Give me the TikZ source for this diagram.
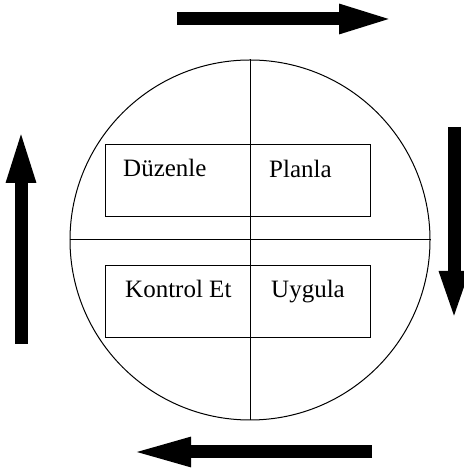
\documentclass[tikz,border=0pt]{standalone}
\usepackage{fontspec}
\setmainfont{Liberation Serif}
\usetikzlibrary{arrows.meta}
\tikzset{
  thin line/.style={line width=1pt},
  box/.style={draw, thin line, minimum width=265pt, minimum height=72pt, inner sep=0pt},
  word/.style={anchor=base west, inner sep=0pt, font=\fontsize{25}{29}\selectfont},
  bigarrow/.style={line width=13pt, -{Triangle[length=#1,width=26pt]}}
}
\begin{document}
\begin{tikzpicture}[x=1pt,y=1pt]
        \useasboundingbox (0,0) rectangle (463,468);
        % the wheel and its two diameters
        \node[circle, draw, thin line, minimum size=360pt, inner sep=0pt] (wheel) at (250,228) {};
        \draw[thin line] (wheel.north) -- (wheel.south);
        \draw[thin line] (wheel.west) -- (wheel.east);
        % the two boxes
        \node[box] (upper) at (237.5,287) {};
        \node[box] (lower) at (237.5,166.5) {};
        \node[word] (duzenle) at (123,291) {Düzenle};
        \node[word] (planla) at (269,290) {Planla};
        \node[word] (kontrol) at (125,170) {Kontrol Et};
        \node[word] (uygula) at (271,170) {Uygula};
        % the cycle arrows
        \coordinate (topA) at (177,449);
        \coordinate (topB) at (396,449);
        \coordinate (rightA) at (454,341);
        \coordinate (rightB) at (454,146);
        \coordinate (botA) at (372,16);
        \coordinate (botB) at (129,16);
        \coordinate (leftA) at (21,124);
        \coordinate (leftB) at (21,341);
        \draw[bigarrow=57pt] (topA) -- (topB);
        \draw[bigarrow=51pt] (rightA) -- (rightB);
        \draw[bigarrow=62pt] (botA) -- (botB);
        \draw[bigarrow=56pt] (leftA) -- (leftB);
    \end{tikzpicture}
\end{document}
